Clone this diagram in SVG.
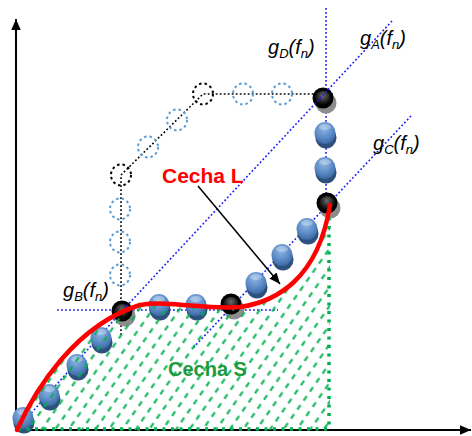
<svg xmlns="http://www.w3.org/2000/svg" xmlns:xlink="http://www.w3.org/1999/xlink" width="472" height="436" viewBox="0 0 472 436">
<style>
.axis{stroke:#000;stroke-width:2;fill:none}
.bdot{stroke:#1a1aff;stroke-width:1.6;stroke-dasharray:1.8 2.2;fill:none}
.kdot{stroke:#000;stroke-width:1.6;stroke-dasharray:1.8 2.2;fill:none}
.gdot{stroke:#00b050;stroke-width:3.5;stroke-dasharray:3 5.5;fill:none}
.cb{stroke:#5b9bd5;stroke-width:2;stroke-dasharray:2.5 3;fill:none}
.ck{stroke:#000;stroke-width:2;stroke-dasharray:2.5 3;fill:none}
.lbl{font-family:"Liberation Sans",Arial,sans-serif;font-style:italic;font-size:20px;fill:#000}
.sub{font-size:13px}
.big{font-family:"Liberation Sans",Arial,sans-serif;font-weight:bold}
</style>
<defs>
<marker id="ah" markerUnits="userSpaceOnUse" markerWidth="12" markerHeight="10" refX="11" refY="4.75" orient="auto">
<path d="M0,0 L11,4.75 L0,9.5 z" fill="#000"/>
</marker>
<pattern id="hatch" patternUnits="userSpaceOnUse" width="11" height="11" patternTransform="rotate(-55)">
<line x1="0" y1="5.5" x2="5.5" y2="5.5" stroke="#00b050" stroke-width="2"/>
</pattern>
<radialGradient id="gBlue" cx="0.45" cy="0.3" r="0.7">
<stop offset="0" stop-color="#8fb5e3"/>
<stop offset="0.6" stop-color="#5c8bc7"/>
<stop offset="1" stop-color="#3d68a3"/>
</radialGradient>
<radialGradient id="gBlack" cx="0.5" cy="0.3" r="0.6">
<stop offset="0" stop-color="#6a6a6a"/>
<stop offset="0.7" stop-color="#1a1a1a"/>
<stop offset="1" stop-color="#000"/>
</radialGradient>
<g id="blueBall">
<ellipse cx="1" cy="4.5" rx="10.5" ry="11" fill="#2e507d"/>
<ellipse cx="0" cy="0" rx="10.5" ry="11" fill="url(#gBlue)"/>
<ellipse cx="0" cy="-6" rx="6" ry="3" fill="#fff" opacity="0.3"/>
</g>
<g id="blackBall">
<circle cx="3" cy="5" r="10.5" fill="#8c8c8c"/>
<circle cx="0" cy="0" r="10.5" fill="#000"/>
<circle cx="0" cy="1" r="8" fill="url(#gBlack)"/>
</g>
</defs>

<g id="axes">
<line class="axis" x1="16" y1="430" x2="471" y2="430" marker-end="url(#ah)"/>
<line class="axis" x1="16" y1="430" x2="16" y2="19" marker-end="url(#ah)"/>
</g>

<g id="connectors">
<line class="bdot" x1="326" y1="8" x2="326" y2="200"/>
<line class="bdot" x1="18" y1="428" x2="122" y2="311"/>
<line class="bdot" x1="57" y1="310" x2="278" y2="310"/>
<line class="bdot" x1="411" y1="116" x2="193" y2="348"/>
<path class="kdot" d="M121,335 L121,175 L203,94 L333,94"/>
</g>

<g id="ghostCircles">
<ellipse class="cb" cx="243" cy="94" rx="10" ry="10.5"/>
<ellipse class="cb" cx="282" cy="94" rx="10" ry="10.5"/>
<ellipse class="cb" cx="177" cy="120" rx="10" ry="10.5"/>
<ellipse class="cb" cx="148" cy="147" rx="10" ry="10.5"/>
<ellipse class="cb" cx="120" cy="209" rx="10" ry="10.5"/>
<ellipse class="cb" cx="120" cy="242" rx="10" ry="10.5"/>
<ellipse class="cb" cx="120" cy="275" rx="10" ry="10.5"/>
<ellipse class="ck" cx="203" cy="94" rx="10" ry="10.5"/>
<ellipse class="ck" cx="121" cy="175" rx="10" ry="10.5"/>
</g>

<g id="balls">
<use xlink:href="#blueBall" x="23" y="418"/>
<use xlink:href="#blueBall" x="49" y="395"/>
<use xlink:href="#blueBall" x="77" y="365"/>
<use xlink:href="#blueBall" x="101" y="338"/>
<use xlink:href="#blueBall" x="159" y="305"/>
<use xlink:href="#blueBall" x="196" y="305"/>
<use xlink:href="#blueBall" x="256" y="283"/>
<use xlink:href="#blueBall" x="282" y="255"/>
<use xlink:href="#blueBall" x="307" y="229"/>
<use xlink:href="#blueBall" x="325" y="168"/>
<use xlink:href="#blueBall" x="325" y="133"/>
<use xlink:href="#blackBall" x="122" y="311"/>
<use xlink:href="#blackBall" x="231" y="304"/>
<use xlink:href="#blackBall" x="323" y="98"/>
<use xlink:href="#blackBall" x="327" y="203"/>
</g>

<g id="gA-line">
<line class="bdot" x1="392" y1="21" x2="122" y2="311"/>
</g>

<g id="areaS">
<path d="M17,430 C35,390 75,325 140,305 C170,300 205,310 240,307 C275,302 318,280 330,205 L330,430 Z" fill="url(#hatch)"/>
<line class="gdot" x1="329" y1="209" x2="329" y2="430"/>
<line class="gdot" x1="18" y1="429" x2="329" y2="429"/>
</g>

<g id="curveL">
<path d="M17,430 C35,390 75,325 140,305 C170,300 205,310 240,307 C275,302 318,280 330,205" fill="none" stroke="#ff0000" stroke-width="4.5" stroke-linecap="round"/>
</g>

<g id="arrowL">
<line x1="198" y1="186" x2="280" y2="284" stroke="#000" stroke-width="1.5" marker-end="url(#ah)"/>
</g>

<g id="labels">
<text class="big" x="162" y="183" font-size="21" fill="#ff0000">Cecha L</text>
<text class="big" x="168" y="376" font-size="20" fill="#1e9a3c">Cecha S</text>
<text class="lbl" x="268" y="54">g<tspan class="sub" dy="4">D</tspan><tspan dy="-4">(f</tspan><tspan class="sub" dy="4">n</tspan><tspan dy="-4">)</tspan></text>
<text class="lbl" x="360" y="45">g<tspan class="sub" dy="4">A</tspan><tspan dy="-4">(f</tspan><tspan class="sub" dy="4">n</tspan><tspan dy="-4">)</tspan></text>
<text class="lbl" x="373" y="150">g<tspan class="sub" dy="4">C</tspan><tspan dy="-4">(f</tspan><tspan class="sub" dy="4">n</tspan><tspan dy="-4">)</tspan></text>
<text class="lbl" x="63" y="297">g<tspan class="sub" dy="4">B</tspan><tspan dy="-4">(f</tspan><tspan class="sub" dy="4">n</tspan><tspan dy="-4">)</tspan></text>
</g>
</svg>
